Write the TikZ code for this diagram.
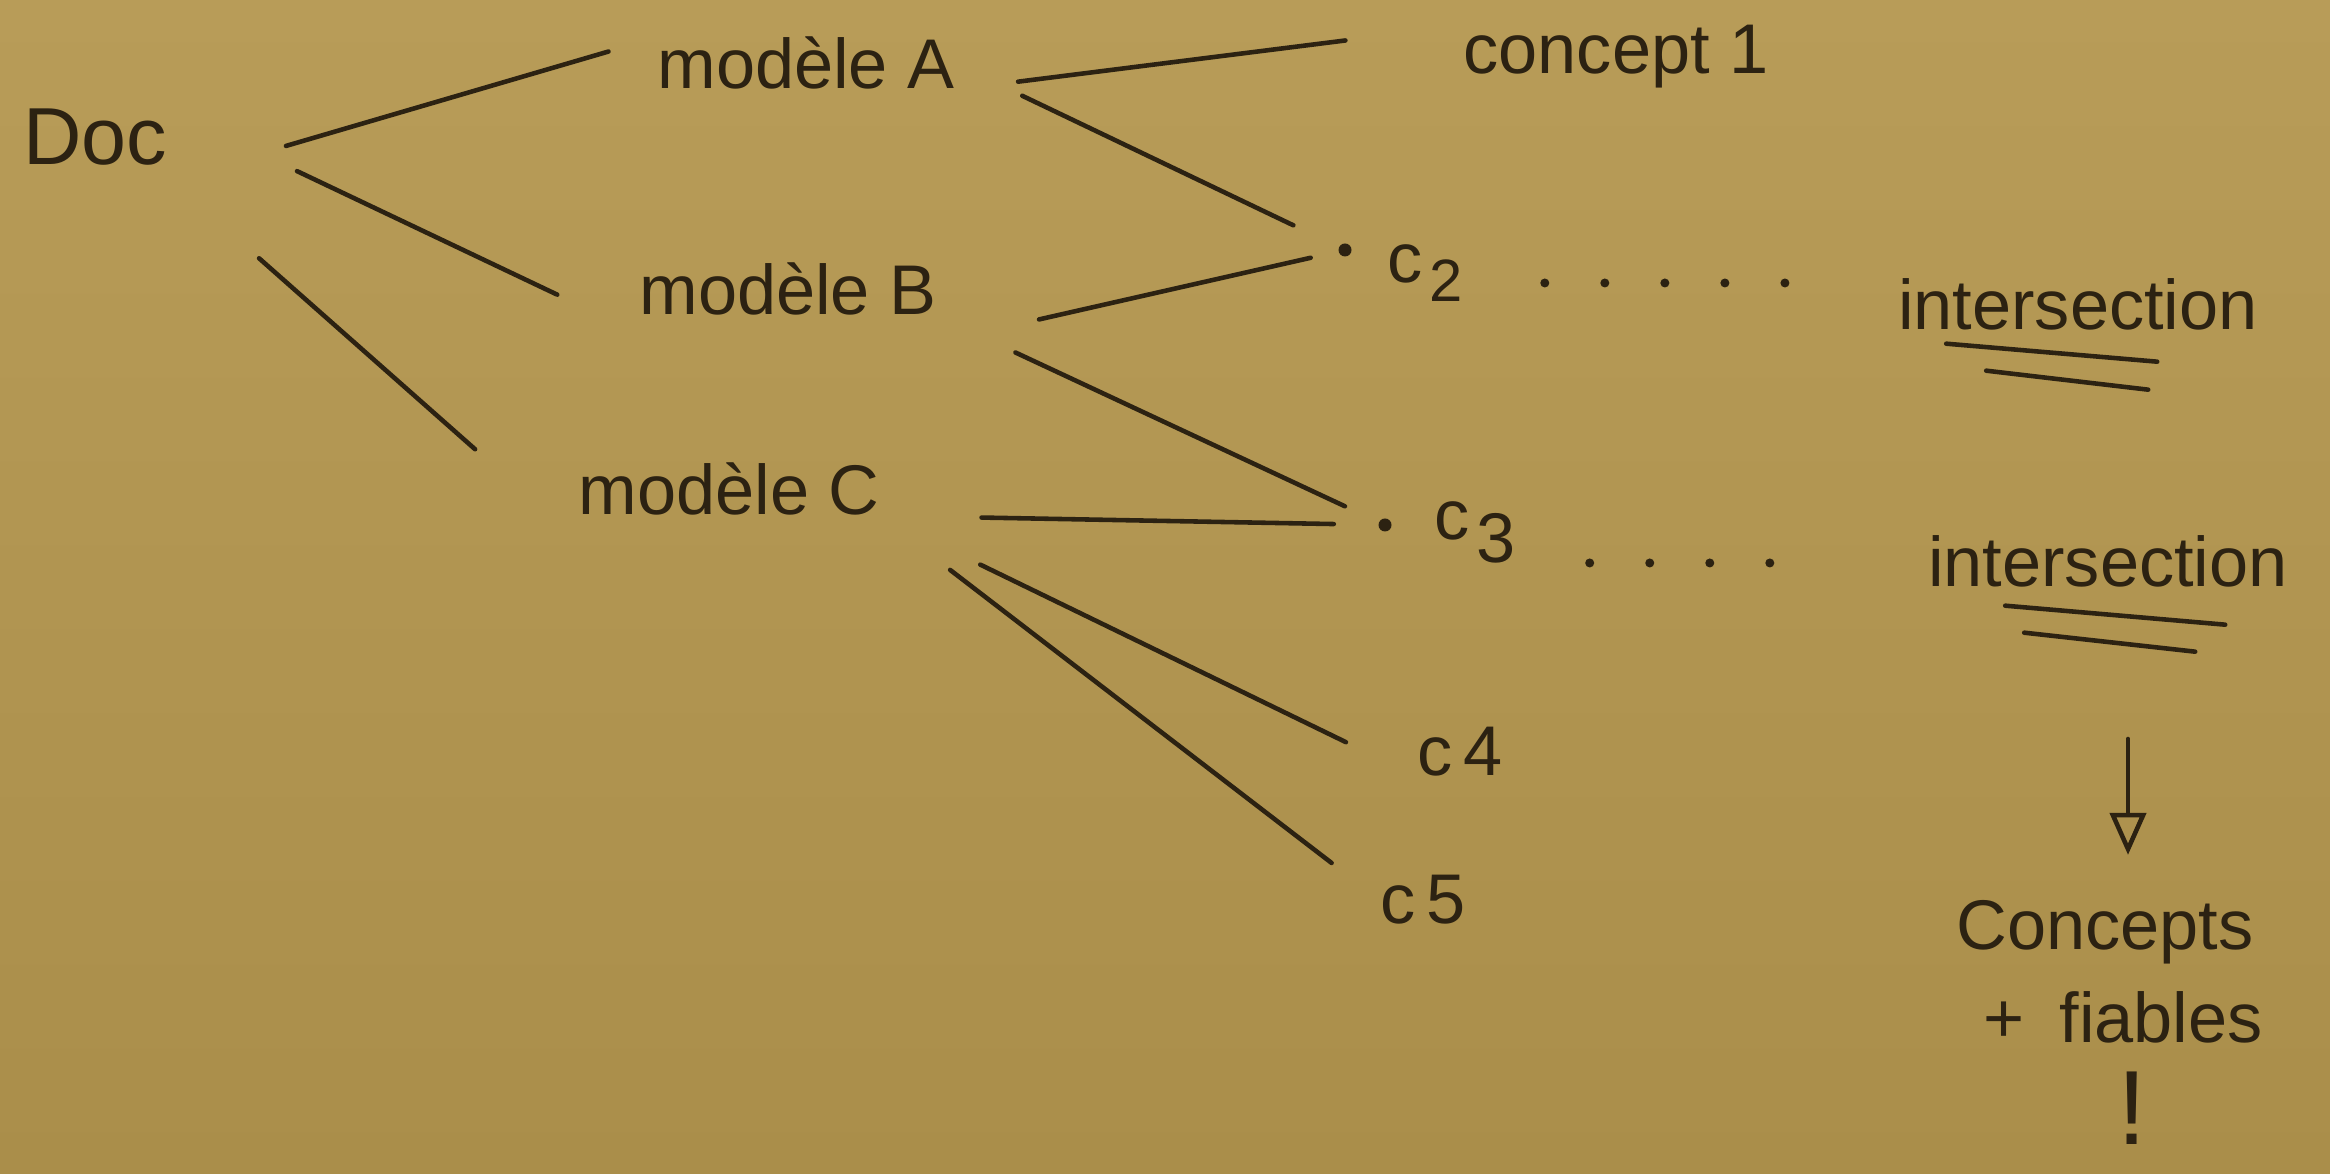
\documentclass[tikz,border=0pt]{standalone}
\usepackage{fontspec}
\setmainfont{Liberation Sans}
\usetikzlibrary{positioning,arrows.meta}
\definecolor{paperTone}{RGB}{184,156,88}
\definecolor{paperDark}{RGB}{170,142,74}
\definecolor{inkTone}{RGB}{44,34,18}

\begin{document}
\begin{tikzpicture}[
    x=0.01cm, y=-0.01cm,
    % Styles
    word/.style={
        inner sep=0pt,
        outer sep=0pt,
        anchor=base,
        text=inkTone,
        font=\fontsize{20}{24}\selectfont
    },
    bullet/.style={
        circle,
        fill=inkTone,
        inner sep=0pt,
        minimum size=0.13cm
    },
    branch/.style={draw=inkTone, line width=1.3pt, line cap=round},
    leader/.style={
        draw=inkTone,
        line width=0.09cm,
        line cap=round,
        dash pattern=on 0pt off 0.6cm
    },
    arrow/.style={branch, -{Triangle[open, width=0.36cm, length=0.42cm]}}
]

    % ---------------------------------------------------------
    % PAPER
    % ---------------------------------------------------------
    \useasboundingbox (0,0) rectangle (2330,1174);
    \shade[top color=paperTone, bottom color=paperDark] (0,0) rectangle (2330,1174);

    % ---------------------------------------------------------
    % 1. LEFT: DOCUMENT AND ITS MODELS
    % ---------------------------------------------------------
    \node[word, font=\fontsize{23}{27}\selectfont] (doc) at (95,165) {Doc};
    \node[word] (modA) at (806,89) {modèle A};
    \node[word] (modB) at (788,315) {modèle B};
    \node[word] (modC) at (729,515) {modèle C};

    % ---------------------------------------------------------
    % 2. MIDDLE: CONCEPTS FOUND BY THE MODELS
    % ---------------------------------------------------------
    \node[word] (con1) at (1616,74) {concept 1};
    \node[bullet] (d2) at (1345,250) {};
    \node[word] (c2) at (1425,283) {c\hspace{2pt}\raisebox{-0.5ex}{\fontsize{17}{20}\selectfont 2}};
    \node[bullet] (d3) at (1385,525) {};
    \node[word] (c3) at (1475,540) {c\hspace{2pt}\raisebox{-0.6ex}{3}};
    \node[word] (c4) at (1460,776) {c\,4};
    \node[word] (c5) at (1423,924) {c\,5};

    % ---------------------------------------------------------
    % 3. RIGHT: INTERSECTIONS AND RESULT
    % ---------------------------------------------------------
    \node[word] (inter1) at (2078,330) {intersection};
    \node[word] (inter2) at (2108,587) {intersection};
    \node[word] (concepts) at (2105,950) {Concepts};
    \node[word] (fiables) at (2123,1043) {+\enspace fiables};
    \node[word, font=\fontsize{30}{36}\selectfont] (bang) at (2132,1145) {!};
    \coordinate (arrtop) at (2128,739);

    % ---------------------------------------------------------
    % CONNECTIONS
    % ---------------------------------------------------------
    % Doc to the models
    \draw[branch, shorten <=1.24cm, shorten >=0.51cm] ([yshift=-0.15cm]doc.south east) -- (modA.north west);
    \draw[branch, shorten <=1.44cm, shorten >=0.91cm] (doc.north east) -- ([yshift=-0.18cm]modB.south west);
    \draw[branch, shorten <=1.23cm, shorten >=1.38cm] ([yshift=-0.11cm]doc.south east) -- ([yshift=-0.25cm]modC.south west);

    % Models to concepts
    \draw[branch, shorten <=0.64cm, shorten >=1.19cm] (modA.south east) -- (con1.north west);
    \draw[branch, shorten <=0.75cm, shorten >=0.50cm] (modA.east) -- (d2);
    \draw[branch, shorten <=1.05cm, shorten >=0.28cm] ([yshift=-0.27cm]modB.south east) -- (d2);
    \draw[branch, shorten <=0.87cm, shorten >=0.37cm] (modB.south east) -- (d3);
    \draw[branch, shorten <=1.02cm, shorten >=0.44cm] (modC.south east) -- (d3);
    \draw[branch, shorten <=1.12cm, shorten >=0.79cm] (modC.south east) -- (c4.south west);
    \draw[branch, shorten <=0.89cm, shorten >=0.61cm] (modC.south east) -- (c5.west);

    % Dotted leaders to the intersections
    \draw[leader, shorten <=0.82cm, shorten >=0.90cm] (c2.base east) -- (c2.base east -| inter1.west);
    \draw[leader, shorten <=0.74cm, shorten >=1.05cm] (c3.south east) -- (c3.south east -| inter2.west);

    % Double underlines
    \draw[branch] (inter1.south west) ++(48,13) -- ++(211,18);
    \draw[branch] (inter1.south west) ++(88,40) -- ++(162,19);
    \draw[branch] (inter2.south west) ++(77,18) -- ++(220,19);
    \draw[branch] (inter2.south west) ++(96,45) -- ++(171,19);

    % Result
    \draw[arrow, shorten >=0.46cm] (arrtop) -- (arrtop |- concepts.north);

\end{tikzpicture}
\end{document}
